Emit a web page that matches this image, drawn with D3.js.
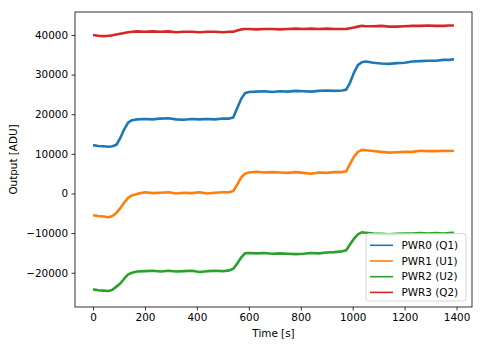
<!DOCTYPE html>
<html>
<head>
<meta charset="utf-8">
<script src="https://cdn.jsdelivr.net/npm/d3@7"></script>
<style>
  body { margin: 0; background: #fff; }
  svg { font-family: "DejaVu Sans", sans-serif; }
</style>
</head>
<body>
<svg id="chart" width="483" height="347"></svg>
<script>
// time samples [s]
const time = [0,20,40,60,75,90,105,120,135,150,
  170,200,230,260,290,320,350,380,410,440,
  470,500,525,540,555,570,585,600,630,660,
  690,720,750,780,810,840,870,900,930,960,
  975,990,1005,1020,1035,1050,1080,1110,1140,1170,
  1200,1230,1260,1290,1320,1350,1370,1390];

const pwr0 = [12200,12000,11900,11800,11900,12300,14000,16200,17900,18500,
  18700,18800,18700,18900,19000,18700,18600,18800,18700,18800,
  18700,18900,18900,19200,21500,23800,25300,25600,25700,25800,
  25600,25800,25700,25900,25800,25700,25900,26000,25900,26000,
  26200,28000,30500,32400,33100,33300,33000,32800,32700,32900,
  33000,33300,33400,33500,33500,33700,33700,33900];

const pwr1 = [-5500,-5700,-5800,-6000,-5700,-4900,-3700,-2300,-1100,-500,
  -100,300,100,200,300,0,200,100,300,0,
  200,300,300,600,2200,4000,5000,5300,5500,5300,
  5400,5300,5200,5400,5200,5000,5300,5200,5400,5400,
  5600,7500,9300,10500,11000,10900,10700,10500,10300,10400,
  10500,10500,10800,10700,10700,10800,10700,10800];

const pwr2 = [-24200,-24400,-24500,-24600,-24300,-23500,-22700,-21500,-20400,-20000,
  -19700,-19600,-19500,-19700,-19500,-19700,-19600,-19500,-19800,-19600,
  -19500,-19600,-19400,-19000,-17700,-16200,-15100,-15000,-15100,-15000,
  -15200,-15100,-15200,-15300,-15200,-15000,-15100,-14900,-14800,-14600,
  -14300,-12800,-11400,-10300,-9800,-9900,-10100,-10200,-10300,-10200,
  -10100,-10100,-10000,-10100,-10000,-10100,-10000,-9900];

const pwr3 = [40000,39800,39700,39800,39900,40100,40300,40500,40700,40800,
  40900,40800,40900,40800,40900,40700,40800,40800,40700,40800,
  40800,40700,40800,40800,41100,41400,41500,41500,41400,41500,
  41500,41400,41500,41600,41500,41600,41500,41600,41500,41500,
  41500,41700,41900,42100,42300,42200,42200,42300,42100,42100,
  42200,42300,42300,42400,42300,42300,42400,42400];

const seriesNames = ["PWR0 (Q1)", "PWR1 (U1)", "PWR2 (U2)", "PWR3 (Q2)"];
const seriesValues = [pwr0, pwr1, pwr2, pwr3];
const colors = ["#1f77b4", "#ff7f0e", "#2ca02c", "#d62728"];

const xTicks = [0, 200, 400, 600, 800, 1000, 1200, 1400];
const yTicks = [-20000, -10000, 0, 10000, 20000, 30000, 40000];

const plotL = 75, plotR = 472, plotT = 12, plotB = 307;
const fs = "10.4px";

const svg = d3.select("#chart");

const x = d3.scaleLinear().domain([-69.5, 1459.5]).range([plotL, plotR]);
const y = d3.scaleLinear().domain([-28640, 45790]).range([plotB, plotT]);

const fmt = d => d3.format("d")(d).replace("-", "\u2212");

// lines
const line = d3.line()
  .x((d, i) => x(time[i]))
  .y(d => y(d));

seriesValues.forEach((vals, k) => {
  svg.append("path")
    .datum(vals)
    .attr("fill", "none")
    .attr("stroke", colors[k])
    .attr("stroke-width", 2.6)
    .attr("stroke-linejoin", "round")
    .attr("d", line);
});

// axes
const xAxis = svg.append("g")
  .attr("transform", `translate(0,${plotB})`)
  .call(d3.axisBottom(x).tickValues(xTicks).tickSize(3.5).tickPadding(3.5).tickFormat(fmt));
const yAxis = svg.append("g")
  .attr("transform", `translate(${plotL},0)`)
  .call(d3.axisLeft(y).tickValues(yTicks).tickSize(3.5).tickPadding(3.5).tickFormat(fmt));

[xAxis, yAxis].forEach(g => {
  g.select(".domain").remove();
  g.selectAll("text").attr("font-family", "DejaVu Sans").attr("font-size", fs).attr("fill", "#000");
  g.selectAll("line").attr("stroke", "#000").attr("stroke-width", 0.8);
});

// frame
svg.append("rect")
  .attr("x", plotL).attr("y", plotT)
  .attr("width", plotR - plotL).attr("height", plotB - plotT)
  .attr("fill", "none").attr("stroke", "#000").attr("stroke-width", 0.8);

// axis labels
svg.append("text")
  .attr("x", (plotL + plotR) / 2).attr("y", 337)
  .attr("text-anchor", "middle").attr("font-size", fs)
  .text("Time [s]");
svg.append("text")
  .attr("transform", `translate(17,${(plotT + plotB) / 2}) rotate(-90)`)
  .attr("text-anchor", "middle").attr("font-size", fs)
  .text("Output [ADU]");

// legend
const lg = svg.append("g");
lg.append("rect")
  .attr("x", 366).attr("y", 233.5)
  .attr("width", 100).attr("height", 67.5)
  .attr("rx", 2.5)
  .attr("fill", "#fff").attr("fill-opacity", 0.8)
  .attr("stroke", "#ccc").attr("stroke-width", 0.8);

seriesNames.forEach((name, k) => {
  const yy = 245.3 + k * 15.7;
  lg.append("line")
    .attr("x1", 370).attr("x2", 393)
    .attr("y1", yy).attr("y2", yy)
    .attr("stroke", colors[k]).attr("stroke-width", 1.6);
  lg.append("text")
    .attr("x", 401.5).attr("y", yy).attr("dy", "0.36em")
    .attr("font-size", fs)
    .text(name);
});
</script>
</body>
</html>
